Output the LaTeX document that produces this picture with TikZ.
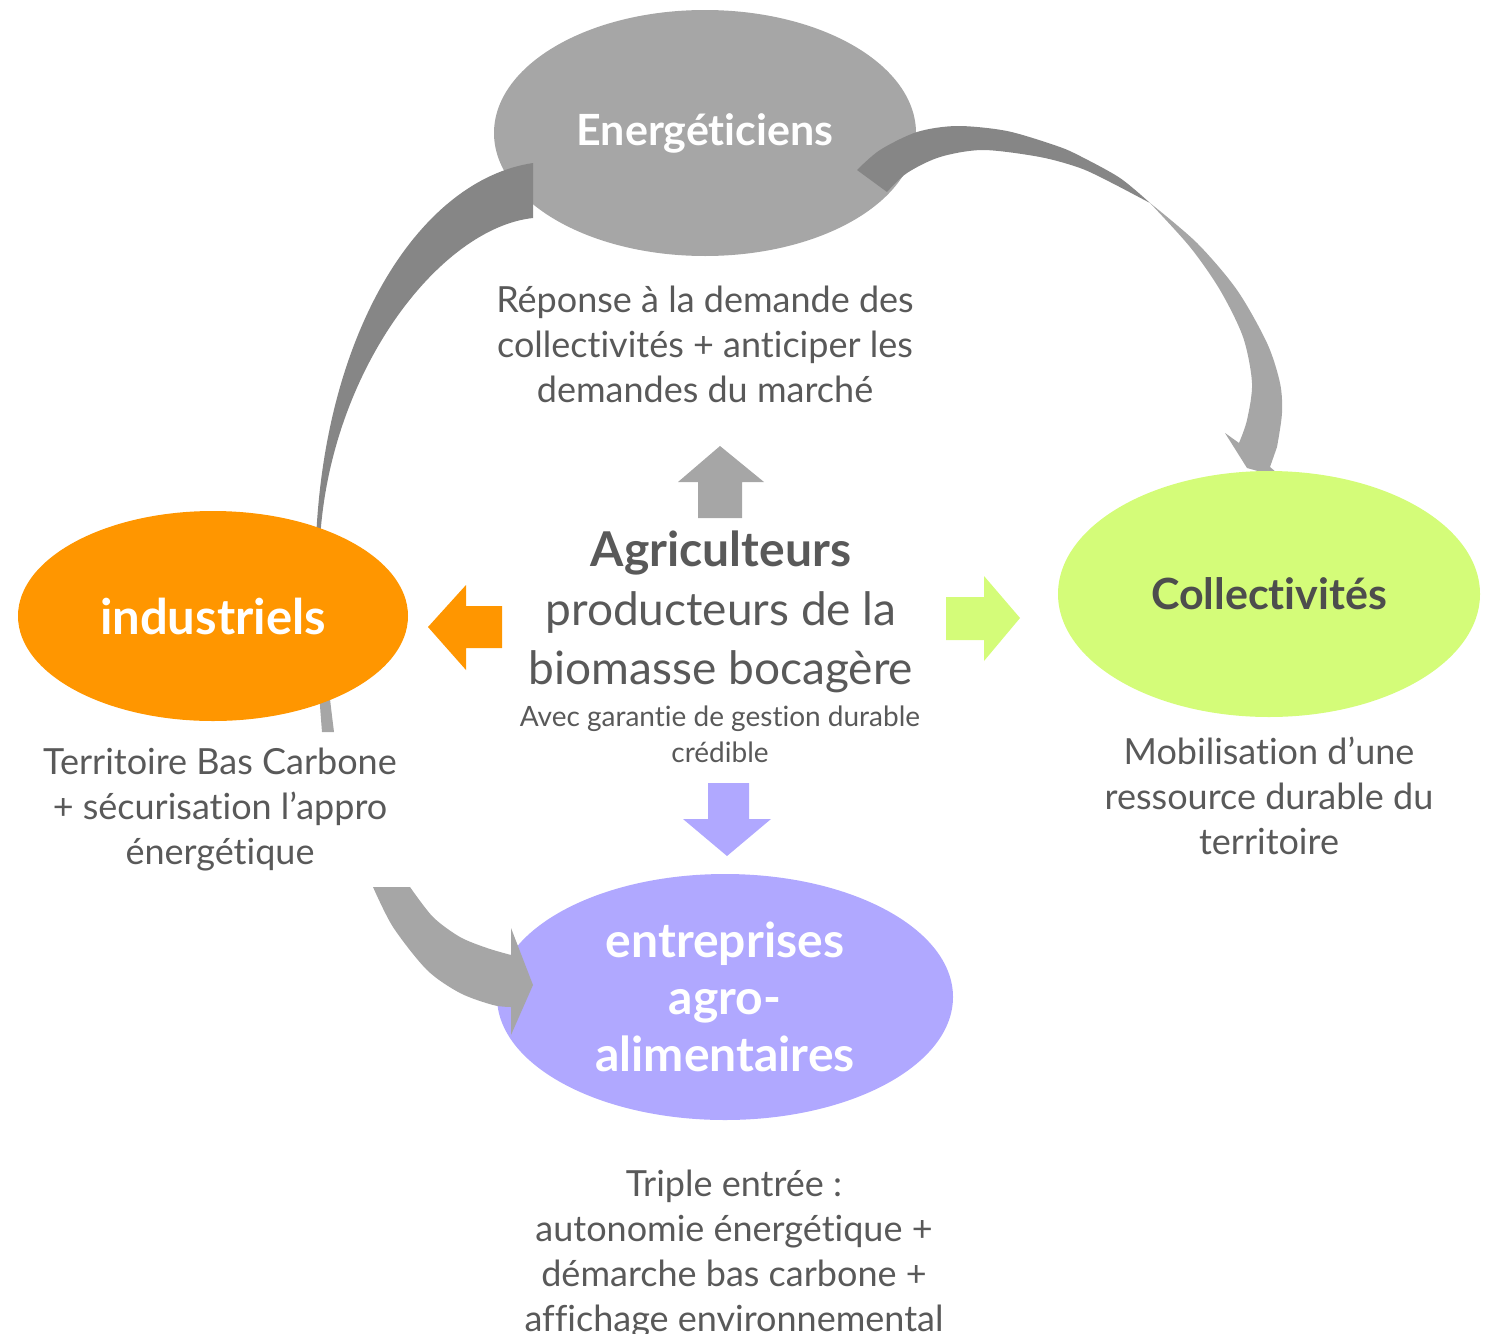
\documentclass[tikz,border=0pt]{standalone}
\usepackage{fontspec}
\setmainfont{Lato}[Ligatures=NoCommon]
\usetikzlibrary{shapes.geometric}
\definecolor{ellgray}{HTML}{A6A6A6}
\definecolor{arcdark}{HTML}{868686}
\definecolor{arclight}{HTML}{A6A6A6}
\definecolor{orangeA}{HTML}{FF9600}
\definecolor{greenA}{HTML}{D4FC79}
\definecolor{lavA}{HTML}{B0A8FF}
\definecolor{txtgray}{HTML}{595959}
\definecolor{txtdark}{HTML}{4D4D4D}
\tikzset{
  actor/.style={ellipse, inner sep=0pt, align=center, font=\bfseries\fontsize{43}{57}\selectfont},
  desc/.style={align=center, text=txtgray, inner sep=0pt, font=\fontsize{36}{45}\selectfont},
}
\begin{document}
\begin{tikzpicture}[x=1pt,y=-1pt]
\useasboundingbox (0,0) rectangle (1493,1333);

% Energeticiens ellipse
\node[actor, fill=ellgray, text=white, minimum width=422pt, minimum height=246pt] (ener) at (705,133) {Energéticiens};

% left arc (industriels -> energeticiens)
\fill[arcdark] (533,163) .. controls (420,180) and (325,330) .. (316,540) -- (316,620) -- (322,620) -- (320,540)
  .. controls (330,370) and (440,228) .. (533,218) -- cycle;
\fill[arclight] plot[smooth] coordinates {(316,620) (319,690) (322,732)}
  -- plot[smooth] coordinates {(334,732) (329,690) (322,620)} -- cycle;

% right arc (energeticiens -> collectivites)
\fill[arcdark] plot[smooth] coordinates {(857,170) (880,150) (917,132) (957,126) (1007,131) (1057,146) (1080,156) (1120,178) (1150,203)}
  -- plot[smooth] coordinates {(1150,203) (1110,182) (1080,168) (1040,157) (983,150) (940,157) (907,173) (887,192)} -- cycle;
\fill[arclight] plot[smooth] coordinates {(1150,203) (1197,243) (1237,290) (1267,343) (1280,383) (1282,413) (1277,447)}
  -- (1270,467) -- (1283,478) -- (1247,468) -- (1225,433) -- (1239,443)
  -- plot[smooth] coordinates {(1239,443) (1247,420) (1252,383) (1243,337) (1220,290) (1190,247) (1150,203)} -- cycle;

% other ellipses
\node[actor, fill=orangeA, text=white, minimum width=390pt, minimum height=210pt, font=\bfseries\fontsize{49}{57}\selectfont] (indu) at (213,616) {industriels};
\node[actor, fill=greenA, text=txtdark, minimum width=422pt, minimum height=246pt] (coll) at (1269,594) {Collectivités};
\node[actor, fill=lavA, text=white, minimum width=456pt, minimum height=246pt, font=\bfseries\fontsize{48}{57}\selectfont] (agro) at (725,997) {entreprises\\agro-\\alimentaires};

% bottom curved arrow (industriels -> agro)
\fill[arclight] plot[smooth] coordinates {(373,887) (393,927) (427,970) (460,993) (493,1005) (511,1007)}
  -- (511,1035) -- (533,985) -- (511,928) -- (511,955)
  -- plot[smooth] coordinates {(511,955) (487,948) (460,937) (433,917) (410,887)} -- cycle;

% central block
\node[align=center, text=txtgray, inner sep=0pt, font=\fontsize{46}{59}\selectfont] (agri) at (721,612)
  {{\bfseries\fontsize{48}{59}\selectfont Agriculteurs}\\
   producteurs de la\\
   biomasse bocagère};
\node[align=center, text=txtgray, inner sep=0pt, font=\fontsize{28}{36}\selectfont] (avec) at (720,734)
  {Avec garantie de gestion durable\\crédible};

% block arrows
\fill[ellgray] (698,518) -- (698,482) -- (678,482) -- (720,446) -- (764,482) -- (742,482) -- (742,518) -- cycle;
\fill[orangeA] (502,606) -- (466,606) -- (466,585) -- (428,627) -- (466,670) -- (466,648) -- (502,648) -- cycle;
\fill[greenA] (946,597) -- (984,597) -- (984,576) -- (1020,618) -- (984,661) -- (984,640) -- (946,640) -- cycle;
\fill[lavA] (708,783) -- (749,783) -- (749,819) -- (771,819) -- (727,856) -- (683,819) -- (708,819) -- cycle;

% descriptions
\node[desc] (dener) at (705,344) {Réponse à la demande des\\collectivités + anticiper les\\demandes du marché};
\node[desc] (dindu) at (220,810) {Territoire Bas Carbone\\+ sécurisation l’appro\\énergétique};
\node[desc] (dcoll) at (1269,796) {Mobilisation d’une\\ressource durable du\\territoire};
\node[desc] (dagro) at (734,1254) {Triple entrée :\\autonomie énergétique +\\démarche bas carbone +\\affichage environnemental};
\end{tikzpicture}
\end{document}
